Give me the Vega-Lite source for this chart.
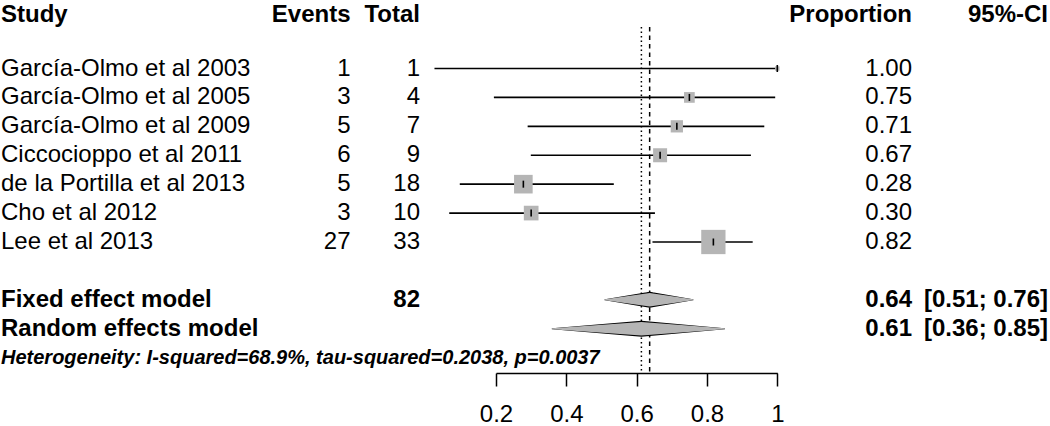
{
  "$schema": "https://vega.github.io/schema/vega-lite/v6.json",
  "width": 1050,
  "height": 373,
  "autosize": {"type": "none"},
  "padding": {"left": 0, "top": 0, "right": 0, "bottom": 53},
  "background": "white",
  "config": {
    "view": {"stroke": null},
    "text": {"font": "Liberation Sans", "fontSize": 24, "color": "black", "baseline": "middle"}
  },
  "datasets": {
    "studies": [
      {"study": "García-Olmo et al 2003", "events": 1, "total": 1, "proportion": 1.0, "lower": 0.025, "upper": 1.0, "weight": 1.2, "row": 0},
      {"study": "García-Olmo et al 2005", "events": 3, "total": 4, "proportion": 0.75, "lower": 0.194, "upper": 0.994, "weight": 7.0, "row": 1},
      {"study": "García-Olmo et al 2009", "events": 5, "total": 7, "proportion": 0.7143, "lower": 0.29, "upper": 0.963, "weight": 9.2, "row": 2},
      {"study": "Ciccocioppo et al 2011", "events": 6, "total": 9, "proportion": 0.6667, "lower": 0.299, "upper": 0.925, "weight": 12.0, "row": 3},
      {"study": "de la Portilla et al 2013", "events": 5, "total": 18, "proportion": 0.2778, "lower": 0.097, "upper": 0.535, "weight": 21.2, "row": 4},
      {"study": "Cho et al 2012", "events": 3, "total": 10, "proportion": 0.3, "lower": 0.067, "upper": 0.652, "weight": 13.2, "row": 5},
      {"study": "Lee et al 2013", "events": 27, "total": 33, "proportion": 0.8182, "lower": 0.645, "upper": 0.93, "weight": 36.1, "row": 6}
    ],
    "models": [
      {"model": "Fixed effect model", "total": 82, "est": 0.637, "lower": 0.51, "upper": 0.76, "ci": "[0.51; 0.76]", "row": 8},
      {"model": "Random effects model", "total": null, "est": 0.6135, "lower": 0.36, "upper": 0.85, "ci": "[0.36; 0.85]", "row": 9}
    ],
    "headers": [
      {"label": "Study"}
    ],
    "notes": [
      {"label": "Heterogeneity: I-squared=68.9%, tau-squared=0.2038, p=0.0037"}
    ]
  },
  "layer": [
    {
      "data": {"name": "models"},
      "mark": {"type": "rule", "strokeWidth": 1.5, "color": "black"},
      "encoding": {
        "x": {"field": "est", "type": "quantitative",
          "scale": {"domain": [0.2, 1], "range": [496, 777.3], "zero": false, "nice": false},
          "axis": {"values": [0.2, 0.4, 0.6, 0.8, 1], "format": "~g", "title": null, "grid": false,
            "tickSize": 13, "tickWidth": 1.5, "tickColor": "black", "domainColor": "black", "domainWidth": 1.5,
            "labelFont": "Liberation Sans", "labelFontSize": 24, "labelColor": "black", "labelPadding": 16,
            "labelFlush": false, "labelOverlap": false, "labelBound": false}},
        "y": {"datum": -1.435, "type": "quantitative",
          "scale": {"domain": [0, 6], "range": [68.5, 242], "zero": false, "nice": false}, "axis": null},
        "y2": {"datum": 10.54},
        "strokeDash": {"field": "model", "type": "nominal",
          "scale": {"domain": ["Fixed effect model", "Random effects model"], "range": [[4.5, 4], [1.5, 3]]}, "legend": null}
      }
    },
    {
      "data": {"name": "studies"},
      "mark": {"type": "rule", "strokeWidth": 1.6, "color": "black"},
      "encoding": {
        "x": {"field": "lower", "type": "quantitative"},
        "x2": {"field": "upper"},
        "y": {"field": "row", "type": "quantitative"}
      }
    },
    {
      "data": {"name": "studies"},
      "mark": {"type": "square", "filled": true, "color": "#b5b5b5", "opacity": 1},
      "encoding": {
        "x": {"field": "proportion", "type": "quantitative"},
        "y": {"field": "row", "type": "quantitative"},
        "size": {"field": "weight", "type": "quantitative", "scale": {"domain": [0, 36.1], "range": [0, 590], "zero": true}, "legend": null}
      }
    },
    {
      "data": {"name": "studies"},
      "mark": {"type": "tick", "orient": "vertical", "size": 7, "thickness": 1.6, "color": "black", "opacity": 1},
      "encoding": {
        "x": {"field": "proportion", "type": "quantitative"},
        "y": {"field": "row", "type": "quantitative"}
      }
    },
    {
      "data": {"name": "models"},
      "transform": [{"fold": ["lower", "est", "upper"]}],
      "mark": {"type": "trail", "fill": "black", "color": "black", "strokeWidth": 0},
      "encoding": {
        "x": {"field": "value", "type": "quantitative"},
        "y": {"field": "row", "type": "quantitative"},
        "detail": {"field": "model"},
        "size": {"condition": {"test": "datum.key === 'est'", "value": 16}, "value": 0}
      }
    },
    {
      "data": {"name": "models"},
      "transform": [{"fold": ["lower", "est", "upper"]}],
      "mark": {"type": "trail", "fill": "#b5b5b5", "color": "#b5b5b5", "strokeWidth": 0},
      "encoding": {
        "x": {"field": "value", "type": "quantitative"},
        "y": {"field": "row", "type": "quantitative"},
        "detail": {"field": "model"},
        "size": {"condition": {"test": "datum.key === 'est'", "value": 13.5}, "value": 0}
      }
    },
    {
      "data": {"name": "studies"},
      "mark": {"type": "text", "align": "left"},
      "encoding": {"x": {"datum": -1.2077}, "y": {"field": "row", "type": "quantitative"}, "text": {"field": "study"}}
    },
    {
      "data": {"name": "studies"},
      "mark": {"type": "text", "align": "right"},
      "encoding": {"x": {"datum": -0.2138}, "y": {"field": "row", "type": "quantitative"}, "text": {"field": "events"}}
    },
    {
      "data": {"name": "studies"},
      "mark": {"type": "text", "align": "right"},
      "encoding": {"x": {"datum": -0.0161}, "y": {"field": "row", "type": "quantitative"}, "text": {"field": "total"}}
    },
    {
      "data": {"name": "studies"},
      "mark": {"type": "text", "align": "right"},
      "encoding": {"x": {"datum": 1.3831}, "y": {"field": "row", "type": "quantitative"}, "text": {"field": "proportion", "type": "quantitative", "format": ".2f"}}
    },
    {
      "data": {"name": "models"},
      "mark": {"type": "text", "align": "left", "fontWeight": "bold"},
      "encoding": {"x": {"datum": -1.2077}, "y": {"field": "row", "type": "quantitative"}, "text": {"field": "model"}}
    },
    {
      "data": {"name": "models"},
      "transform": [{"filter": "isValid(datum.total)"}],
      "mark": {"type": "text", "align": "right", "fontWeight": "bold"},
      "encoding": {"x": {"datum": -0.0161}, "y": {"field": "row", "type": "quantitative"}, "text": {"field": "total"}}
    },
    {
      "data": {"name": "models"},
      "mark": {"type": "text", "align": "right", "fontWeight": "bold"},
      "encoding": {"x": {"datum": 1.3831}, "y": {"field": "row", "type": "quantitative"}, "text": {"field": "est", "type": "quantitative", "format": ".2f"}}
    },
    {
      "data": {"name": "models"},
      "mark": {"type": "text", "align": "right", "fontWeight": "bold"},
      "encoding": {"x": {"datum": 1.7699}, "y": {"field": "row", "type": "quantitative"}, "text": {"field": "ci"}}
    },
    {
      "data": {"name": "headers"},
      "mark": {"type": "text", "align": "left", "fontWeight": "bold"},
      "encoding": {"x": {"datum": -1.2077}, "y": {"datum": -1.86}, "text": {"value": "Study"}}
    },
    {
      "data": {"name": "headers"},
      "mark": {"type": "text", "align": "right", "fontWeight": "bold"},
      "encoding": {"x": {"datum": -0.2138}, "y": {"datum": -1.86}, "text": {"value": "Events"}}
    },
    {
      "data": {"name": "headers"},
      "mark": {"type": "text", "align": "right", "fontWeight": "bold"},
      "encoding": {"x": {"datum": -0.0161}, "y": {"datum": -1.86}, "text": {"value": "Total"}}
    },
    {
      "data": {"name": "headers"},
      "mark": {"type": "text", "align": "right", "fontWeight": "bold"},
      "encoding": {"x": {"datum": 1.3831}, "y": {"datum": -1.86}, "text": {"value": "Proportion"}}
    },
    {
      "data": {"name": "headers"},
      "mark": {"type": "text", "align": "right", "fontWeight": "bold"},
      "encoding": {"x": {"datum": 1.7699}, "y": {"datum": -1.86}, "text": {"value": "95%-CI"}}
    },
    {
      "data": {"name": "notes"},
      "mark": {"type": "text", "align": "left", "fontWeight": "bold", "fontStyle": "italic", "fontSize": 20},
      "encoding": {"x": {"datum": -1.2077}, "y": {"datum": 10}, "text": {"field": "label"}}
    }
  ]
}
